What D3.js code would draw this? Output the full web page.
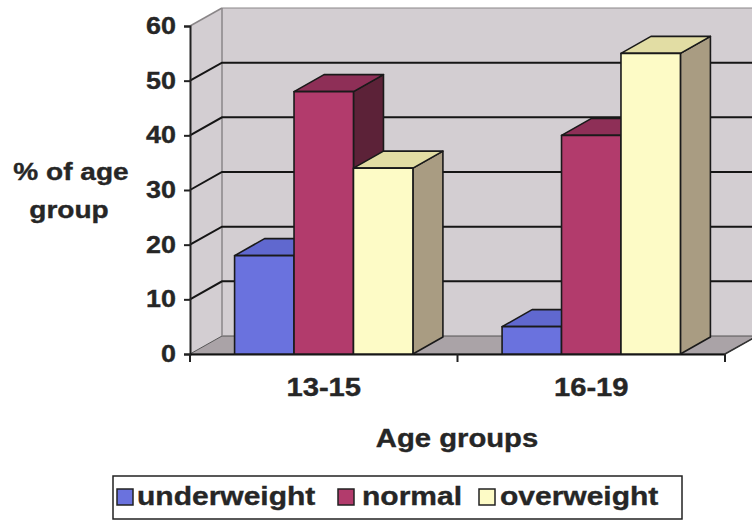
<!DOCTYPE html>
<html>
<head>
<meta charset="utf-8">
<script src="https://cdn.jsdelivr.net/npm/d3@7/dist/d3.min.js"></script>
<style>
  html, body { margin: 0; padding: 0; background: #ffffff; }
  svg { display: block; }
  text { font-family: "Liberation Sans", Arial, sans-serif; font-weight: bold; fill: #262626; stroke: #262626; stroke-width: 0.35px; }
</style>
</head>
<body>
<svg id="chart" width="752" height="524"></svg>
<script>
// ---- data ----
const categories = ["13-15", "16-19"];
const seriesNames = ["underweight", "normal", "overweight"];
const underweight = [18, 5];
const normal = [48, 40];
const overweight = [34, 55];
const yTicks = [0, 10, 20, 30, 40, 50, 60];
const yTitle = ["% of age", "group"];
const xTitle = "Age groups";

// ---- styling / layout ----
const colors = {
  underweight: { front: "#6a72de", top: "#6068cf", side: "#3f4590" },
  normal:      { front: "#b23b6c", top: "#8e2f57", side: "#5c2238" },
  overweight:  { front: "#fdfbc6", top: "#e2dda4", side: "#a99c82" }
};
const series = [underweight, normal, overweight];
const svg = d3.select("#chart");
const W = 752;
const plotLeft = 190, plotRight = 725, yTop = 26, yBottom = 354;
const depthX = 32, depthY = -18;          // wall depth
const barDX = 30, barDY = -17;            // bar depth
const sx = 1.17;                          // horizontal stretch of scanned text

const y = d3.scaleLinear().domain([0, 60]).range([yBottom, yTop]);
const x0 = d3.scaleBand().domain(categories).range([plotLeft, plotRight]).paddingInner(0).paddingOuter(0);
const x1 = d3.scaleBand().domain(seriesNames).range([0, x0.bandwidth()]).paddingInner(0).paddingOuter(0.75);

function txt(g, x, yy, s, size, anchor, stretch) {
  return g.append("text")
    .attr("transform", `translate(${x},${yy}) scale(${stretch || sx},1)`)
    .attr("text-anchor", anchor || "middle")
    .style("font-size", size + "px")
    .text(s);
}

// ---- walls ----
const wallFill = "#d3ced2";
const wallLine = "#8a8688";
svg.append("rect")
  .attr("x", plotLeft + depthX).attr("y", yTop + depthY)
  .attr("width", W - (plotLeft + depthX) + 10).attr("height", yBottom - yTop)
  .attr("fill", wallFill);
svg.append("polygon")
  .attr("points", [[plotLeft, yTop], [plotLeft + depthX, yTop + depthY], [plotLeft + depthX, yBottom + depthY], [plotLeft, yBottom]].join(" "))
  .attr("fill", wallFill);
svg.append("polygon")
  .attr("points", [[plotLeft, yBottom], [plotLeft + depthX, yBottom + depthY], [plotRight + depthX, yBottom + depthY], [plotRight, yBottom]].join(" "))
  .attr("fill", "#aaa3a7").attr("stroke", "#555").attr("stroke-width", 1);
svg.append("line").attr("x1", plotLeft + depthX).attr("x2", plotLeft + depthX)
  .attr("y1", yTop + depthY).attr("y2", yBottom + depthY).attr("stroke", wallLine).attr("stroke-width", 1.5);
svg.append("line").attr("x1", plotLeft).attr("y1", yTop).attr("x2", plotLeft + depthX).attr("y2", yTop + depthY)
  .attr("stroke", wallLine).attr("stroke-width", 1.5);
svg.append("line").attr("x1", plotLeft + depthX).attr("y1", yTop + depthY).attr("x2", W).attr("y2", yTop + depthY)
  .attr("stroke", wallLine).attr("stroke-width", 1);

// ---- gridlines ----
const grid = svg.append("g");
yTicks.filter(t => t > 0 && t < 60).forEach(t => {
  const yy = y(t);
  grid.append("path")
    .attr("d", `M${plotLeft},${yy} L${plotLeft + depthX},${yy + depthY} L${W},${yy + depthY}`)
    .attr("fill", "none").attr("stroke", "#151515").attr("stroke-width", 2);
});

// ---- axes ----
const yAxis = d3.axisLeft(y).tickValues(yTicks).tickSize(6).tickPadding(8).tickFormat(d3.format("d"));
const yg = svg.append("g").attr("transform", `translate(${plotLeft},0)`).call(yAxis);
yg.select(".domain").attr("stroke", "#222").attr("stroke-width", 2);
yg.selectAll(".tick line").attr("stroke", "#222").attr("stroke-width", 2);
yg.selectAll(".tick text").remove();
yTicks.forEach(t => {
  txt(svg, plotLeft - 14, y(t) + 8, String(t), 23, "end");
});

const xAxis = d3.axisBottom(x0).tickSize(0).tickFormat("");
const xg = svg.append("g").attr("transform", `translate(0,${yBottom})`).call(xAxis);
xg.select(".domain").attr("stroke", "#111").attr("stroke-width", 2);
const bounds = [plotLeft].concat(categories.map(c => x0(c) + x0.bandwidth()));
bounds.forEach(b => {
  svg.append("line").attr("x1", b).attr("x2", b).attr("y1", yBottom).attr("y2", yBottom + 8)
    .attr("stroke", "#222").attr("stroke-width", 2);
});
svg.append("line").attr("x1", plotRight).attr("y1", yBottom).attr("x2", plotRight + depthX).attr("y2", yBottom + depthY)
  .attr("stroke", "#333").attr("stroke-width", 1.5);

categories.forEach(c => {
  txt(svg, x0(c) + x0.bandwidth() / 2, 396, c, 25, "middle");
});

// ---- bars ----
const bars = svg.append("g");
categories.forEach((c, ci) => {
  seriesNames.forEach((s, si) => {
    const v = series[si][ci];
    const xl = x0(c) + x1(s), xr = xl + x1.bandwidth();
    const yt = y(v), yb = y(0);
    const col = colors[s];
    const g = bars.append("g").attr("stroke", "#1a1a1a").attr("stroke-width", 1.6).attr("stroke-linejoin", "round");
    g.append("polygon")
      .attr("points", [[xr, yt], [xr + barDX, yt + barDY], [xr + barDX, yb + barDY], [xr, yb]].join(" "))
      .attr("fill", col.side);
    g.append("polygon")
      .attr("points", [[xl, yt], [xl + barDX, yt + barDY], [xr + barDX, yt + barDY], [xr, yt]].join(" "))
      .attr("fill", col.top);
    g.append("rect")
      .attr("x", xl).attr("y", yt).attr("width", xr - xl).attr("height", yb - yt)
      .attr("fill", col.front);
  });
});

// ---- titles ----
txt(svg, 71, 180, yTitle[0], 24, "middle");
txt(svg, 69, 218, yTitle[1], 24, "middle");
txt(svg, 457, 447, xTitle, 25, "middle");

// ---- legend ----
const lg = svg.append("g");
lg.append("rect").attr("x", 113).attr("y", 476).attr("width", 569).attr("height", 43)
  .attr("fill", "#fff").attr("stroke", "#222").attr("stroke-width", 1.5);
const legendItems = [
  { name: seriesNames[0], mx: 117, tx: 137 },
  { name: seriesNames[1], mx: 338, tx: 362 },
  { name: seriesNames[2], mx: 479, tx: 500 }
];
legendItems.forEach(it => {
  lg.append("rect").attr("x", it.mx).attr("y", 489).attr("width", 16).attr("height", 16)
    .attr("fill", colors[it.name].front).attr("stroke", "#222").attr("stroke-width", 1.5);
  txt(lg, it.tx, 505, it.name, 25, "start", 1.2);
});
</script>
</body>
</html>
